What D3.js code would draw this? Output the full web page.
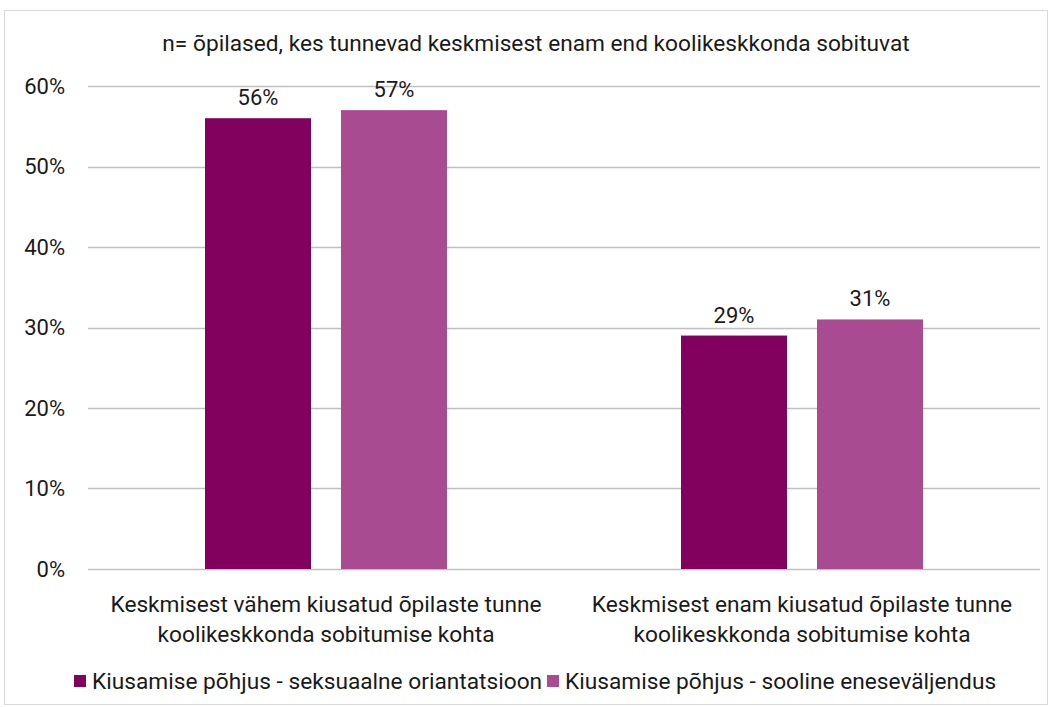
<!DOCTYPE html>
<html>
<head>
<meta charset="utf-8">
<script src="https://cdn.jsdelivr.net/npm/d3@7"></script>
<style>
  body { margin: 0; background: #fff; }
  svg { display: block; font-family: Roboto, "Liberation Sans", sans-serif; }
</style>
</head>
<body>
<div id="chart"></div>
<script>
  // data
  const categories = [
    ["Keskmisest vähem kiusatud õpilaste tunne", "koolikeskkonda sobitumise kohta"],
    ["Keskmisest enam kiusatud õpilaste tunne", "koolikeskkonda sobitumise kohta"]
  ];
  const seriesNames = [
    "Kiusamise põhjus - seksuaalne oriantatsioon",
    "Kiusamise põhjus - sooline eneseväljendus"
  ];
  const seksuaalne = [0.56, 0.29];
  const sooline = [0.57, 0.31];
  const yTicks = [0, 0.1, 0.2, 0.3, 0.4, 0.5, 0.6];
  const colors = ["#82005e", "#a84b91"];
  const titleText = "n= õpilased, kes tunnevad keskmisest enam end koolikeskkonda sobituvat";

  const W = 1051, H = 707;
  const plot = { left: 88, right: 1040, top: 86, bottom: 569 };

  const svg = d3.select("#chart").append("svg")
    .attr("width", W)
    .attr("height", H);

  // outer chart border
  svg.append("rect")
    .attr("x", 4.5).attr("y", 10.5)
    .attr("width", 1043).attr("height", 694)
    .attr("fill", "#fff")
    .attr("stroke", "#d9d9d9");

  const y = d3.scaleLinear().domain([0, 0.6]).range([plot.bottom, plot.top]);

  const x0 = d3.scaleBand()
    .domain(d3.range(categories.length))
    .range([plot.left, plot.right])
    .paddingInner(0.4916)
    .paddingOuter(0.2458);

  const x1 = d3.scaleBand()
    .domain(d3.range(seriesNames.length))
    .range([0, x0.bandwidth()])
    .paddingInner(0.2206);

  // gridlines
  svg.append("g")
    .selectAll("line")
    .data(yTicks)
    .join("line")
    .attr("x1", plot.left).attr("x2", plot.right)
    .attr("y1", d => Math.round(y(d)) + 0.5)
    .attr("y2", d => Math.round(y(d)) + 0.5)
    .attr("stroke", "#bfbfbf")
    .attr("stroke-width", 1.5);

  // y tick labels
  svg.append("g")
    .selectAll("text")
    .data(yTicks)
    .join("text")
    .attr("x", 65)
    .attr("y", d => y(d))
    .attr("dy", "0.35em")
    .attr("text-anchor", "end")
    .style("font-size", "22px")
    .style("fill", "#1a1a1a")
    .text(d => d3.format(".0%")(d));

  // bars
  const series = [seksuaalne, sooline];
  const groups = svg.append("g")
    .selectAll("g")
    .data(categories.map((c, i) => i))
    .join("g")
    .attr("transform", i => `translate(${x0(i)},0)`);

  groups.selectAll("rect")
    .data(i => series.map((s, k) => ({ k, v: s[i] })))
    .join("rect")
    .attr("x", d => x1(d.k))
    .attr("y", d => y(d.v))
    .attr("width", x1.bandwidth())
    .attr("height", d => y(0) - y(d.v))
    .attr("fill", d => colors[d.k]);

  groups.selectAll("text.val")
    .data(i => series.map((s, k) => ({ k, v: s[i] })))
    .join("text")
    .attr("class", "val")
    .attr("x", d => x1(d.k) + x1.bandwidth() / 2)
    .attr("y", d => y(d.v) - 13)
    .attr("text-anchor", "middle")
    .style("font-size", "22px")
    .style("fill", "#1a1a1a")
    .text(d => d3.format(".0%")(d.v));

  // category labels
  const catText = svg.append("g")
    .selectAll("text")
    .data(categories)
    .join("text")
    .attr("text-anchor", "middle")
    .style("font-size", "22.7px")
    .style("fill", "#1a1a1a");

  catText.selectAll("tspan")
    .data((d, i) => d.map(line => ({ line, i })))
    .join("tspan")
    .attr("x", d => x0(d.i) + x0.bandwidth() / 2)
    .attr("y", (d, j) => 612 + j * 30)
    .text(d => d.line);

  // title
  svg.append("text")
    .attr("x", 536)
    .attr("y", 51)
    .attr("text-anchor", "middle")
    .style("font-size", "22.7px")
    .style("fill", "#1a1a1a")
    .text(titleText);

  // legend
  const legend = svg.append("g");
  const legendX = [74, 547];
  seriesNames.forEach((name, k) => {
    legend.append("rect")
      .attr("x", legendX[k]).attr("y", 675)
      .attr("width", 12).attr("height", 12)
      .attr("fill", colors[k]);
    legend.append("text")
      .attr("x", legendX[k] + 18)
      .attr("y", 689)
      .style("font-size", "22.7px")
      .style("fill", "#1a1a1a")
      .text(name);
  });
</script>
</body>
</html>
